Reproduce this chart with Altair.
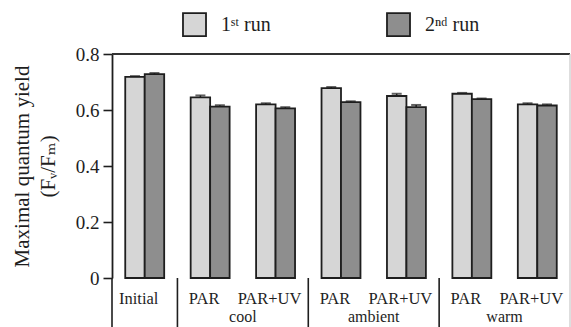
import altair as alt
import pandas as pd

cats = ["Initial", "cool PAR", "cool PAR+UV", "ambient PAR", "ambient PAR+UV", "warm PAR", "warm PAR+UV"]
sub_labels = ["Initial", "PAR", "PAR+UV", "PAR", "PAR+UV", "PAR", "PAR+UV"]
runs = ["1ˢᵗ run", "2ⁿᵈ run"]
run1 = [0.718, 0.645, 0.620, 0.678, 0.650, 0.658, 0.620]
run2 = [0.728, 0.612, 0.606, 0.628, 0.610, 0.639, 0.616]
err1 = [0.003, 0.007, 0.004, 0.004, 0.008, 0.003, 0.004]
err2 = [0.004, 0.005, 0.004, 0.003, 0.008, 0.002, 0.004]
group_names = ["cool", "ambient", "warm"]
group_anchor = ["cool PAR", "ambient PAR", "warm PAR"]
sep_cats = ["Initial", "cool PAR", "ambient PAR", "warm PAR"]

rows = []
for i, c in enumerate(cats):
    rows.append({"cat": c, "run": runs[0], "v": run1[i], "e": err1[i]})
    rows.append({"cat": c, "run": runs[1], "v": run2[i], "e": err2[i]})
df = pd.DataFrame(rows)
df["top"] = df["v"] + df["e"]

lab_df = pd.DataFrame({"cat": cats, "label": sub_labels})
grp_df = pd.DataFrame({"cat": group_anchor, "label": group_names})
sep_df = pd.DataFrame({"cat": sep_cats})
end_df = pd.DataFrame({"cat": [cats[-1]]})
top_df = pd.DataFrame({"y": [0.8]})

W, H = 458, 224
FONT = "'Liberation Serif', 'Times New Roman', 'DejaVu Serif', serif"
INK = "#1e1e1e"

xsc = alt.Scale(domain=cats, paddingInner=0, paddingOuter=0)
xoff = alt.Scale(domain=runs, paddingInner=0, paddingOuter=0.68)
ysc = alt.Scale(domain=[0, 0.8], nice=False)

bars = alt.Chart(df).mark_bar(stroke=INK, strokeWidth=1.8).encode(
    x=alt.X("cat:N", scale=xsc, axis=None),
    xOffset=alt.XOffset("run:N", scale=xoff),
    y=alt.Y("v:Q", scale=ysc, axis=alt.Axis(
        values=[0, 0.2, 0.4, 0.6, 0.8],
        labelExpr="datum.value == 0 ? '0' : format(datum.value, '.1f')",
        tickSize=9, tickWidth=1.6, tickColor=INK, domainColor=INK, domainWidth=1.8,
        labelFont=FONT, labelFontSize=19, labelColor=INK, labelPadding=4,
        grid=False,
        title=["Maximal quantum yield", "(Fᵥ/Fₘ)"],
        titleFont=FONT, titleFontSize=21, titleFontWeight="normal", titleColor=INK,
        titleLineHeight=26, titleX=-101, titleY=112, titleAngle=-90,
        titleAlign="center", titleBaseline="top",
    )),
    color=alt.Color("run:N", scale=alt.Scale(domain=runs, range=["#d6d6d6", "#8e8e8e"]),
                    legend=alt.Legend(
                        title=None, orient="none", legendX=70, legendY=-42,
                        direction="horizontal", symbolType="square", symbolSize=530,
                        symbolStrokeColor=INK, symbolStrokeWidth=1.8, symbolOpacity=1,
                        labelFont=FONT, labelFontSize=20, labelColor=INK,
                        labelOffset=14, columnPadding=112,
                    )),
)

errs = alt.Chart(df).mark_rule(color=INK, strokeWidth=1.5).encode(
    x=alt.X("cat:N", scale=xsc),
    xOffset=alt.XOffset("run:N", scale=xoff),
    y=alt.Y("v:Q", scale=ysc),
    y2="top:Q",
)
caps = alt.Chart(df).mark_tick(color=INK, thickness=2, size=10).encode(
    x=alt.X("cat:N", scale=xsc),
    xOffset=alt.XOffset("run:N", scale=xoff),
    y=alt.Y("top:Q", scale=ysc),
)

topline = alt.Chart(top_df).mark_rule(color="#333333", strokeWidth=2).encode(
    y=alt.Y("y:Q", scale=ysc),
)

seps = alt.Chart(sep_df).mark_rule(color=INK, strokeWidth=1.6).encode(
    x=alt.X("cat:N", scale=xsc, bandPosition=0),
    y=alt.value(H),
    y2=alt.value(H + 50),
)
endline = alt.Chart(end_df).mark_rule(color="#c8c8c8", strokeWidth=1.2).encode(
    x=alt.X("cat:N", scale=xsc, bandPosition=1),
    y=alt.value(0),
    y2=alt.value(H + 50),
)

labels = alt.Chart(lab_df).mark_text(font=FONT, fontSize=16.5, color=INK, dx=-6,
                                     baseline="alphabetic").encode(
    x=alt.X("cat:N", scale=xsc, bandPosition=0.5),
    y=alt.value(H + 26),
    text="label:N",
)
glabels = alt.Chart(grp_df).mark_text(font=FONT, fontSize=16, color=INK,
                                      baseline="alphabetic").encode(
    x=alt.X("cat:N", scale=xsc, bandPosition=1),
    y=alt.value(H + 44),
    text="label:N",
)

chart = alt.layer(bars, errs, caps, topline, seps, endline, labels, glabels).properties(
    width=W, height=H,
    autosize=alt.AutoSizeParams(type="none"),
    padding={"left": 112, "top": 54, "right": 1, "bottom": 49},
    background="white",
).configure_view(stroke=None)

chart.save("out.html", embed_options={"renderer": "svg", "actions": False})
